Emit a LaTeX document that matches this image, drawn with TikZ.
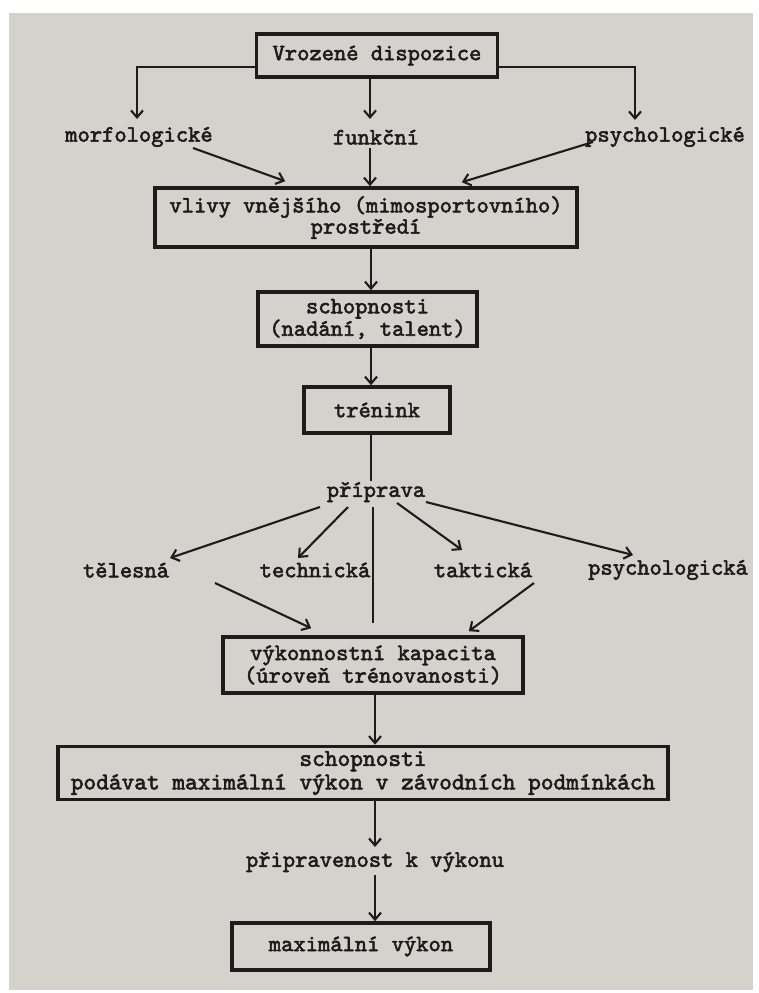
\documentclass[tikz,border=0pt]{standalone}
\usepackage{fontspec}
\newfontfamily\tw[FakeBold=2.4]{lmmono10-regular.otf}
\usetikzlibrary{arrows.meta,calc}
\definecolor{paper}{RGB}{212,210,205}
\definecolor{ink}{RGB}{30,28,27}
\begin{document}
\begin{tikzpicture}[x=1pt,y=-1pt,
  every node/.style={font=\tw\fontsize{23.4}{20}\selectfont, text=ink},
  box/.style={draw=ink, line width=3.6pt, inner sep=0pt, align=center},
  lbl/.style={inner sep=0pt},
  arr/.style={draw=ink, line width=2.1pt, -{Straight Barb[length=7pt,width=12pt]}},
  ln/.style={draw=ink, line width=2.1pt}]
\fill[white] (0,0) rectangle (759,993);
\fill[paper] (9,13) rectangle (753,990);
\useasboundingbox (0,0) rectangle (759,993);

% boxes
\node[box, minimum width=241pt, minimum height=43pt] (b1) at (377,55.5) {Vrozené dispozice};
\node[box, minimum width=422pt, minimum height=59pt] (b2) at (366,217.5) {vlivy vnějšího (mimosportovního)\\prostředí};
\node[box, minimum width=219pt, minimum height=54pt] (b3) at (367.5,319) {schopnosti\\(nadání, talent)};
\node[box, minimum width=146pt, minimum height=46pt] (b4) at (377,410) {trénink};
\node[box, minimum width=300pt, minimum height=56pt] (b5) at (373,665) {výkonnostní kapacita\\(úroveň trénovanosti)};
\node[box, minimum width=610pt, minimum height=53pt, font=\tw\fontsize{24.2}{23.5}\selectfont] (b6) at (363,773) {schopnosti\\podávat maximální výkon v závodních podmínkách};
\node[box, minimum width=258pt, minimum height=47pt] (b7) at (361,946.5) {maximální výkon};

% labels
\node[lbl] (morf) at (139,137) {morfologické};
\node[lbl] (funk) at (376,137) {funkční};
\node[lbl] (psy1) at (665,137) {psychologické};
\node[lbl] (prip) at (376,492) {příprava};
\node[lbl] (tel) at (126,570) {tělesná};
\node[lbl] (tech) at (315,570) {technická};
\node[lbl] (takt) at (483,570) {taktická};
\node[lbl] (psy2) at (668,570) {psychologická};
\node[lbl] (pv) at (375,862) {připravenost k výkonu};

% connectors top
\draw[arr] ($(b1.south west)+(0,-12)$) -| ($(morf.center)+(-2,-18)$);
\draw[arr] ($(b1.south east)+(0,-12)$) -| ($(psy1.center)+(-30,-17)$);
\draw[arr] ($(b1.south)+(-7,0)$) -- ($(funk.center)+(-6,-18)$);

\draw[arr] ($(morf.center)+(54,11)$) -- ($(b2.north west)+(132,-5)$);
\draw[arr] ($(funk.center)+(-6,11)$) -- ($(b2.north)+(4,0)$);
\draw[arr] ($(psy1.center)+(-72,5)$) -- ($(b2.north east)+(-117,-4)$);

\draw[arr] ($(b2.south)+(5,0)$) -- ($(b3.north)+(3.5,0)$);
\draw[arr] ($(b3.south)+(3.5,0)$) -- ($(b4.north)+(-6,0)$);
\draw[ln] ($(b4.south)+(-6,0)$) -- ($(prip.center)+(-5,-11)$);

% from priprava
\draw[arr] ($(prip.center)+(-56,15)$) -- ($(tel.center)+(44,-12)$);
\draw[arr] ($(prip.center)+(-28,15)$) -- ($(tech.center)+(-17,-12)$);
\draw[ln] ($(prip.center)+(-3,15)$) -- ($(b5.north)+(0,-12)$);
\draw[arr] ($(prip.center)+(21,11)$) -- ($(takt.center)+(-21,-20)$);
\draw[arr] ($(prip.center)+(50,10)$) -- ($(psy2.center)+(-35,-15)$);

\draw[arr] ($(tel.center)+(89,13)$) -- ($(b5.north west)+(90,-7)$);
\draw[arr] ($(takt.center)+(51,13)$) -- ($(b5.north east)+(-56,-4)$);

% bottom chain
\draw[arr] ($(b5.south)+(2,0)$) -- ($(b6.north)+(12,0)$);
\draw[arr] ($(b6.south)+(12,0)$) -- ($(pv.center)+(0,-15)$);
\draw[arr] ($(pv.center)+(0,13)$) -- ($(b7.north)+(14,0)$);
\end{tikzpicture}
\end{document}
